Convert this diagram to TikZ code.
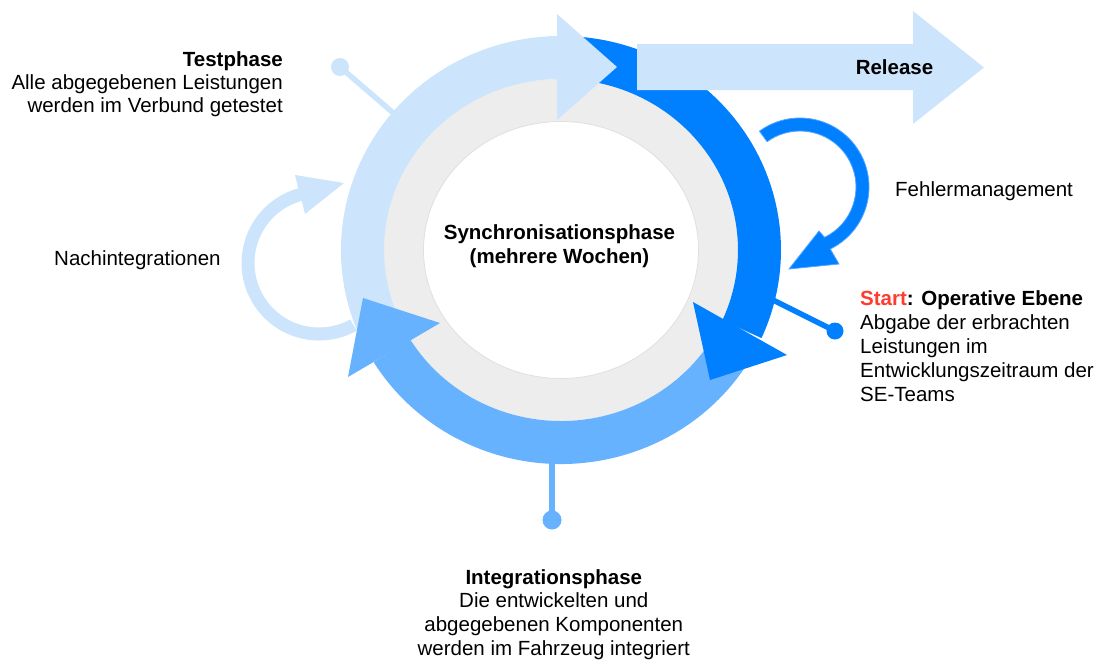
\documentclass[tikz,border=0pt]{standalone}
\usepackage{fontspec}
\setmainfont{Liberation Sans}
\usetikzlibrary{calc}
\definecolor{paleblue}{RGB}{204,228,252}
\definecolor{deepblue}{RGB}{0,128,255}
\definecolor{midblue}{RGB}{102,178,255}
\definecolor{ringgray}{RGB}{237,237,237}
\definecolor{ringedge}{RGB}{224,224,224}
\definecolor{startred}{RGB}{255,59,48}
\definecolor{softedge}{RGB}{80,165,255}

\begin{document}
\begin{tikzpicture}[x=1pt,y=-1pt,
  lbl/.style={inner sep=0pt, font=\fontsize{20.5}{23.6}\selectfont},
  pindot/.style={circle, inner sep=0pt, minimum size=#1},
  pinline/.style={line width=5.5pt},
]
\useasboundingbox (0,0) rectangle (1100,659);
\coordinate (C) at (561,250);
\coordinate (F) at (800,187);
\coordinate (N) at (319,263);

% ---- pins from the cycle to the phase descriptions
\node[pindot=18, fill=paleblue] (tdot) at (340,67) {};
\coordinate (tring) at (398,117);
\draw[pinline, paleblue] (tring) -- (tdot.center);

\node[pindot=17, fill=deepblue] (sdot) at (835,331) {};
\coordinate (sring) at (765,296);
\draw[pinline, deepblue] (sring) -- (sdot.center);

\node[pindot=19, fill=midblue] (idot) at (552,520) {};
\coordinate (iring) at (552,455);
\draw[pinline, line width=6pt, midblue] (iring) -- (idot.center);

% ---- re-integration loop on the left
\fill[paleblue] ($(N)+({77.5*cos(61)},{77.5*sin(61)})$)
  arc[start angle=61, end angle=254.5, radius=77.5]
  -- (295,175) -- (344,183) -- (305,214)
  -- ($(N)+({64.5*cos(254.5)},{64.5*sin(254.5)})$)
  arc[start angle=254.5, end angle=61, radius=64.5] -- cycle;

% ---- grey inner ring
\fill[ringgray, even odd rule] (C) ellipse[x radius=177.5, y radius=171]
  (C) ellipse[x radius=137.5, y radius=128.5];
\draw[ringedge, line width=0.8pt] (C) ellipse[x radius=137.5, y radius=128.5];

% ---- shafts of the three cycle arrows (each starts under the previous head)
\fill[midblue] ($(C)+({220*cos(27)},{214*sin(27)})$)
  arc[start angle=27, end angle=148.4, x radius=220, y radius=214]
  -- ($(C)+({177*cos(148.4)},{171*sin(148.4)})$)
  arc[start angle=148.4, end angle=27, x radius=177, y radius=171] -- cycle;
\fill[deepblue] ($(C)+({220*cos(269.5)},{214*sin(269.5)})$)
  arc[start angle=269.5, end angle=384.3, x radius=220, y radius=214]
  -- ($(C)+({177*cos(384.3)},{171*sin(384.3)})$)
  arc[start angle=384.3, end angle=269.5, x radius=177, y radius=171] -- cycle;
\fill[paleblue] ($(C)+({220*cos(150)},{214*sin(150)})$)
  arc[start angle=150, end angle=269, x radius=220, y radius=214]
  -- ($(C)+({177*cos(269)},{171*sin(269)})$)
  arc[start angle=269, end angle=150, x radius=177, y radius=171] -- cycle;

% ---- heads of the three cycle arrows
\fill[paleblue] (557,14) -- (617,67) -- (557,120) -- cycle;
\fill[deepblue] (693,302) -- (787,355) -- (710,380) -- cycle;
\fill[midblue] (440,323) -- (348,377) -- (363,298) -- cycle;

% ---- release arrow
\fill[paleblue] (637,44) -- (913,44) -- (913,11) -- (984,67.5)
  -- (913,124) -- (913,90) -- (637,90) -- cycle;

% ---- error management loop
\filldraw[fill=deepblue, draw=softedge, line width=0.8pt]
  ($(F)+({69*cos(234)},{69*sin(234)})$)
  arc[start angle=234, end angle=424, radius=69]
  -- (839,264) -- (789,269) -- (819,231)
  -- ($(F)+({56*cos(424)},{56*sin(424)})$)
  arc[start angle=424, end angle=234, radius=56] -- cycle;

% ---- labels (base anchor of a multi-line node sits on its last line)
\node[lbl, align=center, anchor=base, font=\fontsize{20.5}{23.7}\selectfont\bfseries]
  (sync) at (559.5,263) {Synchronisationsphase\\(mehrere Wochen)};
\node[lbl, anchor=base, font=\fontsize{20.5}{23.6}\selectfont\bfseries]
  (release) at (894.5,74) {Release};
\node[lbl, align=right, anchor=base east, font=\fontsize{20.5}{22.7}\selectfont]
  (test) at (283,112.1) {\textbf{Testphase}\\Alle abgegebenen Leistungen\\werden im Verbund getestet};
\node[lbl, anchor=base west] (nach) at (54,265) {Nachintegrationen};
\node[lbl, anchor=base west] (fehler) at (895,196) {Fehlermanagement};
\node[lbl, align=left, anchor=base west, font=\fontsize{20.5}{24.2}\selectfont]
  (start) at (860,401.8) {\textbf{\textcolor{startred}{Start}: Operative Ebene}\\Abgabe der erbrachten\\Leistungen im\\Entwicklungszeitraum der\\SE-Teams};
\node[lbl, align=center, anchor=base, font=\fontsize{20.5}{23.7}\selectfont]
  (integ) at (553.8,655.1) {\textbf{Integrationsphase}\\Die entwickelten und\\abgegebenen Komponenten\\werden im Fahrzeug integriert};
\end{tikzpicture}
\end{document}
